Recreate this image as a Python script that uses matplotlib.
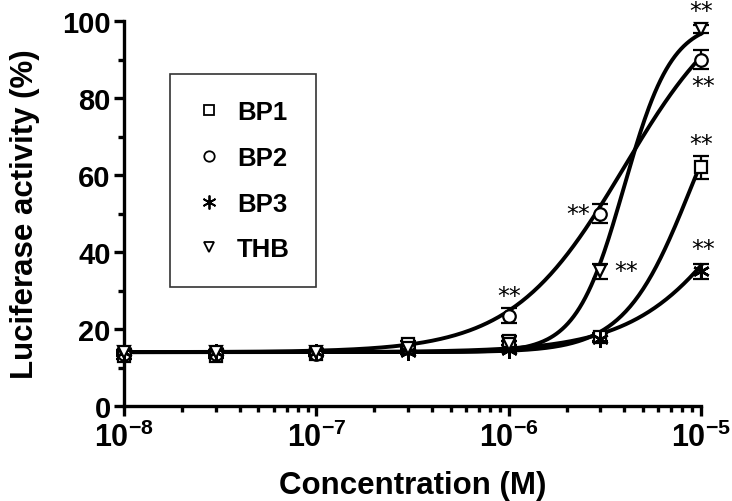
import numpy as np
import matplotlib
matplotlib.use('Agg')
import matplotlib.pyplot as plt
from matplotlib.ticker import FixedLocator, FixedFormatter, MultipleLocator, LogLocator
from matplotlib.lines import Line2D

plt.rcParams['font.family'] = ['Liberation Sans', 'DejaVu Sans']
plt.rcParams['mathtext.fontset'] = 'custom'
plt.rcParams['mathtext.bf'] = 'Liberation Sans:bold'
plt.rcParams['mathtext.rm'] = 'Liberation Sans'

# concentrations (M)
conc = [1e-8, 3e-8, 1e-7, 3e-7, 1e-6, 3e-6, 1e-5]

# mean luciferase activity (%) and error
bp1 = [13.0, 13.0, 13.5, 16.0, 17.0, 18.0, 62.0]
bp1_err = [0.8, 0.6, 0.6, 1.0, 1.2, 1.0, 3.0]
bp2 = [13.5, 13.5, 13.5, 15.0, 23.5, 50.0, 90.0]
bp2_err = [0.6, 0.5, 0.5, 0.8, 2.0, 2.5, 2.5]
bp3 = [14.0, 14.0, 14.0, 14.0, 14.5, 17.5, 35.0]
bp3_err = [0.5, 0.5, 0.5, 0.5, 0.5, 0.8, 2.0]
thb = [14.0, 14.0, 14.0, 15.0, 16.0, 35.0, 98.0]
thb_err = [0.5, 0.5, 0.5, 0.6, 0.8, 2.0, 1.0]

# sigmoidal dose-response fits: bottom, top, logEC50, hill slope
bp1_fit = (14.0, 100.0, -5.05, 2.5)
bp2_fit = (14.0, 110.0, -5.4, 1.5)
bp3_fit = (14.0, 100.0, -4.7, 1.5)
thb_fit = (14.0, 100.0, -5.4, 3.5)

labels = ['BP1', 'BP2', 'BP3', 'THB']
markers = ['s', 'o', (6, 2, 0), 'v']

# significance marks (x, y)
star_x = [1e-5, 1.02e-5, 1e-5, 1.02e-5, 2.3e-6, 4.06e-6, 1e-6]
star_y = [102.6, 83, 68, 40.8, 50, 35, 28.6]


def sigmoid(x, p):
    bottom, top, logec50, hill = p
    return bottom + (top - bottom) / (1 + 10 ** ((logec50 - np.log10(x)) * hill))


fig = plt.figure(figsize=(7.32, 5.02), dpi=100)
ax = fig.add_axes([0.1694, 0.1892, 0.7883, 0.7669])

xs = np.logspace(-8, -5, 400)
series = [(bp1, bp1_err, bp1_fit), (bp2, bp2_err, bp2_fit),
          (bp3, bp3_err, bp3_fit), (thb, thb_err, thb_fit)]

for (vals, err, fit), m in zip(series, markers):
    ax.plot(xs, sigmoid(xs, fit), color='black', lw=2.8, zorder=2, clip_on=False)
    ax.errorbar(conc, vals, yerr=err, fmt='none', ecolor='black', elinewidth=1.6,
                capsize=5.5, capthick=1.6, zorder=3, clip_on=False)
    star = m == (6, 2, 0)
    ax.plot(conc, vals, linestyle='none', marker=m, markersize=12 if star else 9,
            markerfacecolor='black' if star else 'white',
            markeredgecolor='black', markeredgewidth=1.8 if star else 1.6,
            zorder=4, clip_on=False)

for x, y in zip(star_x, star_y):
    ax.text(x, y, '**', fontsize=17, ha='center', va='center',
            family=['DejaVu Sans'])

ax.set_xscale('log')
ax.set_xlim(1e-8, 1e-5)
ax.set_ylim(0, 100)

ax.xaxis.set_major_locator(FixedLocator([1e-8, 1e-7, 1e-6, 1e-5]))
ax.xaxis.set_major_formatter(FixedFormatter([r'$\mathbf{10^{-8}}$', r'$\mathbf{10^{-7}}$',
                                             r'$\mathbf{10^{-6}}$', r'$\mathbf{10^{-5}}$']))
ax.xaxis.set_minor_locator(LogLocator(base=10, subs=np.arange(2, 10)))
ax.yaxis.set_major_locator(MultipleLocator(20))
ax.yaxis.set_minor_locator(MultipleLocator(10))

for s in ['top', 'right']:
    ax.spines[s].set_visible(False)
for s in ['left', 'bottom']:
    ax.spines[s].set_linewidth(2.4)

ax.tick_params(which='major', length=7.5, width=2.4, labelsize=21, direction='out')
ax.tick_params(which='minor', length=4.5, width=2.4, direction='out')
for lab in ax.get_yticklabels():
    lab.set_fontweight('bold')
ax.tick_params(axis='x', which='major', pad=4, labelsize=22)
ax.tick_params(axis='y', which='major', pad=2)

ax.set_xlabel('Concentration (M)', fontsize=22.5, fontweight='bold', labelpad=12)
ax.set_ylabel('Luciferase activity (%)', fontsize=22.5, fontweight='bold', labelpad=16)

handles = [Line2D([], [], linestyle='none', marker=m,
                  markersize=10 if m == (6, 2, 0) else 7.5,
                  markerfacecolor='black' if m == (6, 2, 0) else 'white',
                  markeredgecolor='black', markeredgewidth=1.3) for m in markers]
leg = ax.legend(handles, labels, loc='upper left', bbox_to_anchor=(0.08, 0.862),
                borderaxespad=0, frameon=True, fancybox=False, edgecolor='black',
                prop={'weight': 'bold', 'size': 18.5}, handlelength=1.0,
                handletextpad=0.6, labelspacing=0.85, borderpad=1.0)
leg.get_frame().set_linewidth(1.2)

fig.savefig('out.png', dpi=100)
